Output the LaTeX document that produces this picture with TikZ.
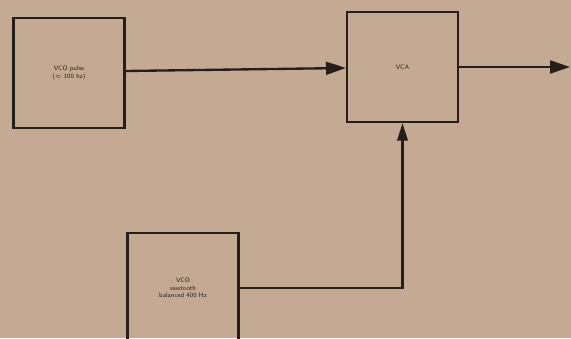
\documentclass[tikz,border=0pt]{standalone}
\usepackage{tikz}
\usetikzlibrary{arrows.meta,positioning,calc}
\definecolor{paper}{RGB}{196,170,146}
\definecolor{ink}{RGB}{38,30,26}

\begin{document}
\begin{tikzpicture}[
    x=0.03cm, y=-0.03cm,
    every node/.style={font=\sffamily\fontsize{5.5}{6.5}\selectfont, text=ink},
    block/.style={draw=ink, line width=1.9pt, minimum width=3.33cm, minimum height=3.3cm, align=center, inner sep=0pt},
    sig/.style={draw=ink, line width=2pt, -{Triangle[length=17pt, width=11pt]}},
    wire/.style={draw=ink, line width=1.9pt, -{Triangle[length=15pt, width=9pt]}}
]
% Paper background and frame
\fill[paper] (0,0) rectangle (571,338);
\clip (0,0) rectangle (571,338);
\useasboundingbox (0,0) rectangle (571,338);

% Blocks
\node[block] (pulse) at (69,73) {VCO pulse\\($\approx$ 100 hz)};
\node[block] (vca) at (402.5,67) {VCA};
\node[block] (saw) at (183,288) {VCO\\sawtooth\\balanced 400 Hz};

% Output end
\coordinate (out) at (570,67);

% Connections
\draw[sig] ($(pulse.east)+(0,-2)$) -- ($(vca.west)+(0,1)$);
\draw[sig] (vca.east) -- (out);
\draw[wire] (saw.east) -| (vca.south);

\end{tikzpicture}
\end{document}
